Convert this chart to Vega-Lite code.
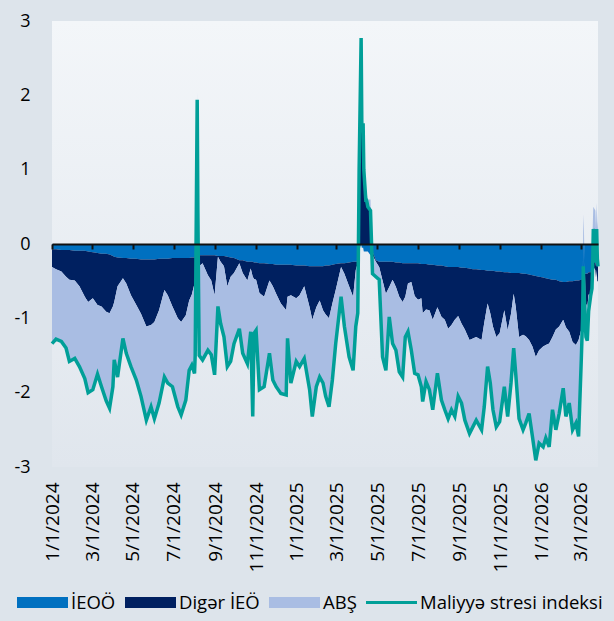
{
  "$schema": "https://vega.github.io/schema/vega-lite/v6.json",
  "autosize": {"type": "none"},
  "width": 546,
  "height": 446,
  "padding": {"left": 52, "top": 21, "right": 16, "bottom": 154},
  "background": "#dde4eb",
  "config": {
    "font": "Open Sans",
    "view": {"stroke": null, "fill": {"gradient": "linear", "x1": 0, "y1": 0, "x2": 0, "y2": 1, "stops": [{"offset": 0, "color": "#f3f6f9"}, {"offset": 1, "color": "#e0e6ed"}]}},
    "axisY": {"domain": false, "ticks": false, "grid": false, "labelPadding": 22, "labelFontSize": 18, "labelColor": "#000", "labelFont": "Open Sans"},
    "axisX": {"grid": false}
  },
  "data": {"values": [
    {"d": "2024-01-01", "ieoo": -0.07, "diger": -0.24, "abs": -1.03, "fsi": -1.34},
    {"d": "2024-01-07", "ieoo": -0.07, "diger": -0.27, "abs": -0.94, "fsi": -1.28},
    {"d": "2024-01-15", "ieoo": -0.08, "diger": -0.29, "abs": -0.94, "fsi": -1.31},
    {"d": "2024-01-22", "ieoo": -0.08, "diger": -0.36, "abs": -0.97, "fsi": -1.40},
    {"d": "2024-01-27", "ieoo": -0.08, "diger": -0.40, "abs": -1.10, "fsi": -1.58},
    {"d": "2024-02-04", "ieoo": -0.09, "diger": -0.40, "abs": -1.05, "fsi": -1.54},
    {"d": "2024-02-11", "ieoo": -0.09, "diger": -0.48, "abs": -1.08, "fsi": -1.65},
    {"d": "2024-02-19", "ieoo": -0.09, "diger": -0.62, "abs": -1.10, "fsi": -1.81},
    {"d": "2024-02-24", "ieoo": -0.10, "diger": -0.68, "abs": -1.22, "fsi": -2.00},
    {"d": "2024-03-02", "ieoo": -0.11, "diger": -0.62, "abs": -1.22, "fsi": -1.96},
    {"d": "2024-03-09", "ieoo": -0.12, "diger": -0.70, "abs": -0.93, "fsi": -1.75},
    {"d": "2024-03-15", "ieoo": -0.13, "diger": -0.71, "abs": -1.08, "fsi": -1.92},
    {"d": "2024-03-22", "ieoo": -0.13, "diger": -0.78, "abs": -1.20, "fsi": -2.11},
    {"d": "2024-03-27", "ieoo": -0.14, "diger": -0.79, "abs": -1.28, "fsi": -2.21},
    {"d": "2024-04-01", "ieoo": -0.16, "diger": -0.68, "abs": -1.08, "fsi": -1.92},
    {"d": "2024-04-03", "ieoo": -0.17, "diger": -0.61, "abs": -0.79, "fsi": -1.56},
    {"d": "2024-04-08", "ieoo": -0.18, "diger": -0.39, "abs": -1.21, "fsi": -1.79},
    {"d": "2024-04-16", "ieoo": -0.19, "diger": -0.27, "abs": -0.81, "fsi": -1.27},
    {"d": "2024-04-21", "ieoo": -0.19, "diger": -0.34, "abs": -0.94, "fsi": -1.47},
    {"d": "2024-04-28", "ieoo": -0.20, "diger": -0.49, "abs": -0.96, "fsi": -1.65},
    {"d": "2024-05-06", "ieoo": -0.20, "diger": -0.62, "abs": -1.01, "fsi": -1.83},
    {"d": "2024-05-13", "ieoo": -0.21, "diger": -0.73, "abs": -1.12, "fsi": -2.05},
    {"d": "2024-05-21", "ieoo": -0.21, "diger": -0.90, "abs": -1.26, "fsi": -2.37},
    {"d": "2024-05-28", "ieoo": -0.21, "diger": -0.88, "abs": -1.10, "fsi": -2.19},
    {"d": "2024-06-02", "ieoo": -0.21, "diger": -0.84, "abs": -1.30, "fsi": -2.35},
    {"d": "2024-06-09", "ieoo": -0.20, "diger": -0.69, "abs": -1.26, "fsi": -2.14},
    {"d": "2024-06-17", "ieoo": -0.20, "diger": -0.42, "abs": -1.17, "fsi": -1.79},
    {"d": "2024-06-22", "ieoo": -0.20, "diger": -0.49, "abs": -1.18, "fsi": -1.87},
    {"d": "2024-06-29", "ieoo": -0.19, "diger": -0.65, "abs": -1.08, "fsi": -1.92},
    {"d": "2024-07-07", "ieoo": -0.19, "diger": -0.81, "abs": -1.19, "fsi": -2.19},
    {"d": "2024-07-12", "ieoo": -0.19, "diger": -0.86, "abs": -1.26, "fsi": -2.30},
    {"d": "2024-07-19", "ieoo": -0.19, "diger": -0.77, "abs": -1.14, "fsi": -2.10},
    {"d": "2024-07-24", "ieoo": -0.19, "diger": -0.57, "abs": -0.94, "fsi": -1.70},
    {"d": "2024-07-28", "ieoo": -0.18, "diger": -0.50, "abs": -0.94, "fsi": -1.63},
    {"d": "2024-08-01", "ieoo": -0.18, "diger": -0.35, "abs": -1.21, "fsi": -1.74},
    {"d": "2024-08-02", "ieoo": -0.18, "diger": -0.35, "abs": -0.97, "fsi": -1.50},
    {"d": "2024-08-05", "ieoo": -0.10, "diger": 0.40, "abs": 1.64, "fsi": 1.94},
    {"d": "2024-08-06", "ieoo": -0.10, "diger": 0.00, "abs": 0.56, "fsi": 0.46},
    {"d": "2024-08-07", "ieoo": -0.14, "diger": -0.15, "abs": -0.31, "fsi": -0.60},
    {"d": "2024-08-08", "ieoo": -0.15, "diger": -0.15, "abs": -1.20, "fsi": -1.50},
    {"d": "2024-08-13", "ieoo": -0.15, "diger": -0.11, "abs": -1.30, "fsi": -1.56},
    {"d": "2024-08-21", "ieoo": -0.15, "diger": -0.27, "abs": -1.01, "fsi": -1.43},
    {"d": "2024-08-26", "ieoo": -0.15, "diger": -0.34, "abs": -1.00, "fsi": -1.49},
    {"d": "2024-08-31", "ieoo": -0.15, "diger": -0.54, "abs": -1.07, "fsi": -1.76},
    {"d": "2024-09-05", "ieoo": -0.16, "diger": -0.01, "abs": -0.67, "fsi": -0.84},
    {"d": "2024-09-09", "ieoo": -0.16, "diger": -0.08, "abs": -0.83, "fsi": -1.07},
    {"d": "2024-09-14", "ieoo": -0.16, "diger": -0.14, "abs": -0.95, "fsi": -1.25},
    {"d": "2024-09-19", "ieoo": -0.17, "diger": -0.40, "abs": -1.08, "fsi": -1.65},
    {"d": "2024-09-24", "ieoo": -0.18, "diger": -0.26, "abs": -1.14, "fsi": -1.58},
    {"d": "2024-09-29", "ieoo": -0.19, "diger": -0.20, "abs": -0.95, "fsi": -1.34},
    {"d": "2024-10-07", "ieoo": -0.22, "diger": -0.04, "abs": -0.88, "fsi": -1.14},
    {"d": "2024-10-12", "ieoo": -0.22, "diger": -0.17, "abs": -1.08, "fsi": -1.47},
    {"d": "2024-10-19", "ieoo": -0.24, "diger": -0.25, "abs": -1.12, "fsi": -1.61},
    {"d": "2024-10-24", "ieoo": -0.24, "diger": -0.09, "abs": -0.85, "fsi": -1.18},
    {"d": "2024-10-27", "ieoo": -0.24, "diger": -0.20, "abs": -1.88, "fsi": -2.32},
    {"d": "2024-10-29", "ieoo": -0.25, "diger": -0.22, "abs": -0.73, "fsi": -1.20},
    {"d": "2024-11-01", "ieoo": -0.25, "diger": -0.23, "abs": -0.68, "fsi": -1.16},
    {"d": "2024-11-06", "ieoo": -0.26, "diger": -0.40, "abs": -1.30, "fsi": -1.96},
    {"d": "2024-11-13", "ieoo": -0.26, "diger": -0.45, "abs": -1.21, "fsi": -1.92},
    {"d": "2024-11-21", "ieoo": -0.27, "diger": -0.22, "abs": -0.98, "fsi": -1.47},
    {"d": "2024-11-26", "ieoo": -0.27, "diger": -0.30, "abs": -1.26, "fsi": -1.83},
    {"d": "2024-12-01", "ieoo": -0.28, "diger": -0.39, "abs": -1.25, "fsi": -1.92},
    {"d": "2024-12-08", "ieoo": -0.28, "diger": -0.52, "abs": -1.21, "fsi": -2.01},
    {"d": "2024-12-16", "ieoo": -0.28, "diger": -0.61, "abs": -1.14, "fsi": -2.03},
    {"d": "2024-12-18", "ieoo": -0.28, "diger": -0.43, "abs": -0.56, "fsi": -1.27},
    {"d": "2024-12-23", "ieoo": -0.28, "diger": -0.41, "abs": -1.18, "fsi": -1.87},
    {"d": "2024-12-31", "ieoo": -0.29, "diger": -0.44, "abs": -0.85, "fsi": -1.58},
    {"d": "2025-01-05", "ieoo": -0.29, "diger": -0.40, "abs": -0.96, "fsi": -1.65},
    {"d": "2025-01-12", "ieoo": -0.29, "diger": -0.28, "abs": -0.97, "fsi": -1.54},
    {"d": "2025-01-20", "ieoo": -0.30, "diger": -0.55, "abs": -1.11, "fsi": -1.96},
    {"d": "2025-01-24", "ieoo": -0.30, "diger": -0.72, "abs": -1.30, "fsi": -2.32},
    {"d": "2025-01-30", "ieoo": -0.30, "diger": -0.55, "abs": -1.07, "fsi": -1.92},
    {"d": "2025-02-04", "ieoo": -0.30, "diger": -0.46, "abs": -1.03, "fsi": -1.79},
    {"d": "2025-02-09", "ieoo": -0.30, "diger": -0.59, "abs": -0.98, "fsi": -1.87},
    {"d": "2025-02-13", "ieoo": -0.29, "diger": -0.66, "abs": -1.10, "fsi": -2.05},
    {"d": "2025-02-18", "ieoo": -0.29, "diger": -0.71, "abs": -1.19, "fsi": -2.19},
    {"d": "2025-02-23", "ieoo": -0.28, "diger": -0.52, "abs": -1.03, "fsi": -1.83},
    {"d": "2025-02-28", "ieoo": -0.27, "diger": -0.35, "abs": -0.72, "fsi": -1.34},
    {"d": "2025-03-08", "ieoo": -0.26, "diger": -0.05, "abs": -0.40, "fsi": -0.71},
    {"d": "2025-03-13", "ieoo": -0.26, "diger": -0.14, "abs": -0.71, "fsi": -1.11},
    {"d": "2025-03-20", "ieoo": -0.25, "diger": -0.32, "abs": -0.95, "fsi": -1.52},
    {"d": "2025-03-26", "ieoo": -0.24, "diger": -0.47, "abs": -0.99, "fsi": -1.70},
    {"d": "2025-03-30", "ieoo": -0.24, "diger": -0.11, "abs": -0.76, "fsi": -1.11},
    {"d": "2025-04-02", "ieoo": -0.24, "diger": -0.02, "abs": -0.67, "fsi": -0.93},
    {"d": "2025-04-03", "ieoo": -0.20, "diger": 0.30, "abs": -0.10, "fsi": 0.00},
    {"d": "2025-04-04", "ieoo": -0.10, "diger": 0.90, "abs": 0.20, "fsi": 1.00},
    {"d": "2025-04-07", "ieoo": 0.00, "diger": 2.20, "abs": 0.57, "fsi": 2.77},
    {"d": "2025-04-08", "ieoo": -0.05, "diger": 1.50, "abs": 0.17, "fsi": 1.62},
    {"d": "2025-04-09", "ieoo": -0.05, "diger": 1.50, "abs": 0.15, "fsi": 1.60},
    {"d": "2025-04-10", "ieoo": -0.05, "diger": 1.50, "abs": 0.15, "fsi": 1.60},
    {"d": "2025-04-11", "ieoo": -0.10, "diger": 1.00, "abs": 0.10, "fsi": 1.00},
    {"d": "2025-04-14", "ieoo": -0.10, "diger": 0.60, "abs": 0.09, "fsi": 0.59},
    {"d": "2025-04-15", "ieoo": -0.10, "diger": 0.60, "abs": 0.09, "fsi": 0.59},
    {"d": "2025-04-16", "ieoo": -0.10, "diger": 0.55, "abs": 0.10, "fsi": 0.55},
    {"d": "2025-04-17", "ieoo": -0.10, "diger": 0.50, "abs": 0.10, "fsi": 0.50},
    {"d": "2025-04-21", "ieoo": -0.15, "diger": 0.40, "abs": 0.20, "fsi": 0.45},
    {"d": "2025-04-24", "ieoo": -0.10, "diger": -0.05, "abs": -0.25, "fsi": -0.40},
    {"d": "2025-04-29", "ieoo": -0.22, "diger": -0.02, "abs": -0.20, "fsi": -0.44},
    {"d": "2025-05-04", "ieoo": -0.24, "diger": -0.07, "abs": -0.17, "fsi": -0.48},
    {"d": "2025-05-09", "ieoo": -0.24, "diger": -0.25, "abs": -1.03, "fsi": -1.52},
    {"d": "2025-05-14", "ieoo": -0.24, "diger": -0.43, "abs": -1.03, "fsi": -1.70},
    {"d": "2025-05-19", "ieoo": -0.24, "diger": -0.34, "abs": -0.40, "fsi": -0.98},
    {"d": "2025-05-24", "ieoo": -0.24, "diger": -0.24, "abs": -0.86, "fsi": -1.34},
    {"d": "2025-05-29", "ieoo": -0.25, "diger": -0.33, "abs": -0.85, "fsi": -1.43},
    {"d": "2025-06-03", "ieoo": -0.25, "diger": -0.46, "abs": -1.01, "fsi": -1.72},
    {"d": "2025-06-08", "ieoo": -0.26, "diger": -0.52, "abs": -1.01, "fsi": -1.79},
    {"d": "2025-06-12", "ieoo": -0.26, "diger": -0.45, "abs": -0.54, "fsi": -1.25},
    {"d": "2025-06-16", "ieoo": -0.26, "diger": -0.27, "abs": -0.65, "fsi": -1.18},
    {"d": "2025-06-21", "ieoo": -0.26, "diger": -0.25, "abs": -0.92, "fsi": -1.43},
    {"d": "2025-06-26", "ieoo": -0.26, "diger": -0.44, "abs": -1.04, "fsi": -1.74},
    {"d": "2025-07-01", "ieoo": -0.26, "diger": -0.49, "abs": -1.01, "fsi": -1.76},
    {"d": "2025-07-06", "ieoo": -0.27, "diger": -0.46, "abs": -1.19, "fsi": -1.92},
    {"d": "2025-07-08", "ieoo": -0.27, "diger": -0.66, "abs": -1.19, "fsi": -2.12},
    {"d": "2025-07-13", "ieoo": -0.27, "diger": -0.61, "abs": -0.97, "fsi": -1.85},
    {"d": "2025-07-18", "ieoo": -0.28, "diger": -0.61, "abs": -1.07, "fsi": -1.96},
    {"d": "2025-07-23", "ieoo": -0.28, "diger": -0.74, "abs": -1.21, "fsi": -2.23},
    {"d": "2025-07-30", "ieoo": -0.29, "diger": -0.56, "abs": -0.89, "fsi": -1.74},
    {"d": "2025-08-05", "ieoo": -0.29, "diger": -0.69, "abs": -1.12, "fsi": -2.10},
    {"d": "2025-08-10", "ieoo": -0.30, "diger": -0.72, "abs": -1.21, "fsi": -2.23},
    {"d": "2025-08-15", "ieoo": -0.31, "diger": -0.83, "abs": -1.21, "fsi": -2.35},
    {"d": "2025-08-20", "ieoo": -0.31, "diger": -0.78, "abs": -1.14, "fsi": -2.23},
    {"d": "2025-08-25", "ieoo": -0.31, "diger": -0.71, "abs": -1.30, "fsi": -2.32},
    {"d": "2025-08-30", "ieoo": -0.31, "diger": -0.66, "abs": -1.08, "fsi": -2.05},
    {"d": "2025-09-04", "ieoo": -0.32, "diger": -0.75, "abs": -1.07, "fsi": -2.14},
    {"d": "2025-09-09", "ieoo": -0.32, "diger": -0.83, "abs": -1.22, "fsi": -2.37},
    {"d": "2025-09-16", "ieoo": -0.33, "diger": -0.96, "abs": -1.26, "fsi": -2.55},
    {"d": "2025-09-21", "ieoo": -0.34, "diger": -0.93, "abs": -1.19, "fsi": -2.46},
    {"d": "2025-09-26", "ieoo": -0.34, "diger": -0.91, "abs": -1.12, "fsi": -2.37},
    {"d": "2025-10-04", "ieoo": -0.35, "diger": -0.94, "abs": -1.21, "fsi": -2.50},
    {"d": "2025-10-08", "ieoo": -0.35, "diger": -0.71, "abs": -1.13, "fsi": -2.19},
    {"d": "2025-10-13", "ieoo": -0.36, "diger": -0.44, "abs": -0.85, "fsi": -1.65},
    {"d": "2025-10-17", "ieoo": -0.36, "diger": -0.57, "abs": -0.94, "fsi": -1.87},
    {"d": "2025-10-21", "ieoo": -0.36, "diger": -0.75, "abs": -1.12, "fsi": -2.23},
    {"d": "2025-10-26", "ieoo": -0.37, "diger": -0.88, "abs": -1.21, "fsi": -2.46},
    {"d": "2025-10-31", "ieoo": -0.37, "diger": -0.83, "abs": -1.19, "fsi": -2.39},
    {"d": "2025-11-07", "ieoo": -0.38, "diger": -0.51, "abs": -1.03, "fsi": -1.92},
    {"d": "2025-11-12", "ieoo": -0.38, "diger": -0.78, "abs": -1.16, "fsi": -2.32},
    {"d": "2025-11-17", "ieoo": -0.39, "diger": -0.55, "abs": -0.93, "fsi": -1.87},
    {"d": "2025-11-21", "ieoo": -0.39, "diger": -0.28, "abs": -0.73, "fsi": -1.40},
    {"d": "2025-11-24", "ieoo": -0.39, "diger": -0.45, "abs": -0.90, "fsi": -1.74},
    {"d": "2025-11-29", "ieoo": -0.39, "diger": -0.86, "abs": -1.10, "fsi": -2.35},
    {"d": "2025-12-05", "ieoo": -0.40, "diger": -0.82, "abs": -1.28, "fsi": -2.50},
    {"d": "2025-12-09", "ieoo": -0.40, "diger": -0.84, "abs": -1.17, "fsi": -2.41},
    {"d": "2025-12-14", "ieoo": -0.41, "diger": -0.88, "abs": -0.99, "fsi": -2.28},
    {"d": "2025-12-19", "ieoo": -0.42, "diger": -0.96, "abs": -1.21, "fsi": -2.59},
    {"d": "2025-12-24", "ieoo": -0.43, "diger": -1.09, "abs": -1.39, "fsi": -2.91},
    {"d": "2025-12-29", "ieoo": -0.44, "diger": -0.99, "abs": -1.25, "fsi": -2.68},
    {"d": "2026-01-04", "ieoo": -0.45, "diger": -0.93, "abs": -1.35, "fsi": -2.73},
    {"d": "2026-01-08", "ieoo": -0.46, "diger": -0.90, "abs": -1.25, "fsi": -2.61},
    {"d": "2026-01-13", "ieoo": -0.47, "diger": -0.87, "abs": -1.39, "fsi": -2.73},
    {"d": "2026-01-18", "ieoo": -0.48, "diger": -0.77, "abs": -0.98, "fsi": -2.23},
    {"d": "2026-01-23", "ieoo": -0.48, "diger": -0.67, "abs": -1.35, "fsi": -2.50},
    {"d": "2026-01-28", "ieoo": -0.50, "diger": -0.61, "abs": -1.17, "fsi": -2.28},
    {"d": "2026-02-03", "ieoo": -0.51, "diger": -0.51, "abs": -0.92, "fsi": -1.94},
    {"d": "2026-02-07", "ieoo": -0.51, "diger": -0.61, "abs": -1.20, "fsi": -2.32},
    {"d": "2026-02-12", "ieoo": -0.50, "diger": -0.68, "abs": -0.96, "fsi": -2.14},
    {"d": "2026-02-17", "ieoo": -0.50, "diger": -0.82, "abs": -1.18, "fsi": -2.50},
    {"d": "2026-02-22", "ieoo": -0.49, "diger": -0.87, "abs": -1.05, "fsi": -2.41},
    {"d": "2026-02-26", "ieoo": -0.49, "diger": -0.80, "abs": -1.30, "fsi": -2.59},
    {"d": "2026-03-02", "ieoo": -0.48, "diger": -0.67, "abs": -0.41, "fsi": -1.56},
    {"d": "2026-03-04", "ieoo": -0.45, "diger": -0.30, "abs": -0.25, "fsi": -1.00},
    {"d": "2026-03-05", "ieoo": -0.40, "diger": -0.30, "abs": 0.40, "fsi": -0.30},
    {"d": "2026-03-06", "ieoo": -0.40, "diger": -0.40, "abs": 0.18, "fsi": -0.62},
    {"d": "2026-03-09", "ieoo": -0.40, "diger": -0.40, "abs": -0.45, "fsi": -1.25},
    {"d": "2026-03-11", "ieoo": -0.40, "diger": -0.45, "abs": -0.45, "fsi": -1.30},
    {"d": "2026-03-13", "ieoo": -0.38, "diger": -0.30, "abs": -0.22, "fsi": -0.90},
    {"d": "2026-03-16", "ieoo": -0.38, "diger": -0.30, "abs": -0.02, "fsi": -0.70},
    {"d": "2026-03-18", "ieoo": -0.35, "diger": -0.25, "abs": 0.00, "fsi": -0.60},
    {"d": "2026-03-19", "ieoo": -0.30, "diger": -0.20, "abs": 0.20, "fsi": -0.30},
    {"d": "2026-03-20", "ieoo": -0.20, "diger": -0.10, "abs": 0.50, "fsi": 0.20},
    {"d": "2026-03-23", "ieoo": -0.25, "diger": -0.10, "abs": 0.45, "fsi": 0.10},
    {"d": "2026-03-24", "ieoo": -0.30, "diger": -0.15, "abs": 0.20, "fsi": -0.25},
    {"d": "2026-03-25", "ieoo": -0.25, "diger": -0.10, "abs": 0.55, "fsi": 0.20},
    {"d": "2026-03-26", "ieoo": -0.30, "diger": -0.20, "abs": 0.30, "fsi": -0.20},
    {"d": "2026-03-27", "ieoo": -0.30, "diger": -0.20, "abs": 0.20, "fsi": -0.30}
  ]},
  "layer": [
    {
      "transform": [{"fold": ["ieoo", "diger", "abs"], "as": ["key", "value"]}],
      "mark": {"type": "area", "interpolate": "linear"},
      "encoding": {
        "x": {"field": "d", "type": "temporal",
              "scale": {"type": "utc", "domain": [{"year": 2024, "month": 1, "date": 1, "utc": true}, {"year": 2026, "month": 3, "date": 27, "utc": true}]},
              "axis": {"orient": "bottom", "domain": false, "ticks": false, "grid": false, "title": null,
                       "labelExpr": "utcFormat(datum.value, '%-m/%-d/%Y')", "tickCount": {"interval": "month", "step": 2},
                       "labelAngle": -90, "labelPadding": 15, "labelFontSize": 19, "labelColor": "#000", "labelFont": "Open Sans",
                       "labelOverlap": false, "labelBound": false, "labelFlush": false}},
        "y": {"field": "value", "type": "quantitative", "stack": "zero",
              "scale": {"domain": [-3, 3], "nice": false, "zero": false},
              "axis": {"title": null, "values": [-3, -2, -1, 0, 1, 2, 3], "labelExpr": "datum.value + ''"}},
        "color": {"field": "key", "type": "nominal",
                  "scale": {"domain": ["ieoo", "diger", "abs", "fsi"], "range": ["#0070c0", "#002060", "#a9bde3", "#009f98"]},
                  "legend": {"orient": "none", "legendX": -35, "legendY": 556, "direction": "horizontal", "columns": 4,
                             "title": null, "padding": 0, "symbolType": "M-1,-0.22H1V0.22H-1Z", "symbolSize": 2601,
                             "symbolStrokeWidth": 0, "labelFontSize": 18.5, "labelFont": "Open Sans", "labelColor": "#000",
                             "labelOffset": 3, "columnPadding": 9, "labelLimit": 300,
                             "labelExpr": "datum.label == 'ieoo' ? 'İEOÖ' : datum.label == 'diger' ? 'Digər İEÖ' : datum.label == 'abs' ? 'ABŞ' : 'Maliyyə stresi indeksi'",
                             "encode": {"symbols": {"update": {
                               "shape": {"signal": "datum.value == 'fsi' ? 'M-1,-0.06H1V0.06H-1Z' : 'M-1,-0.22H1V0.22H-1Z'"},
                               "fill": {"scale": "color", "field": "value"},
                               "fillOpacity": {"value": 1},
                               "strokeWidth": {"value": 0}}}}}},
        "order": {"field": "key", "sort": "descending"}
      }
    },
    {
      "mark": {"type": "line", "strokeWidth": 3.5, "interpolate": "linear"},
      "encoding": {
        "x": {"field": "d", "type": "temporal",
              "scale": {"type": "utc", "domain": [{"year": 2024, "month": 1, "date": 1, "utc": true}, {"year": 2026, "month": 3, "date": 27, "utc": true}]},
              "axis": {"orient": "top", "offset": -223, "labels": false, "grid": false, "title": null,
                       "domain": true, "domainColor": "#111111", "domainWidth": 2,
                       "ticks": true, "tickColor": "#111111", "tickWidth": 2, "tickSize": -5,
                       "tickCount": {"interval": "month", "step": 2}, "zindex": 1}},
        "y": {"field": "fsi", "type": "quantitative", "axis": {"title": null, "values": [-3, -2, -1, 0, 1, 2, 3], "labelExpr": "datum.value + ''"}},
        "color": {"datum": "fsi"}
      }
    }
  ],
  "resolve": {"scale": {"x": "independent"}, "axis": {"x": "independent"}}
}
